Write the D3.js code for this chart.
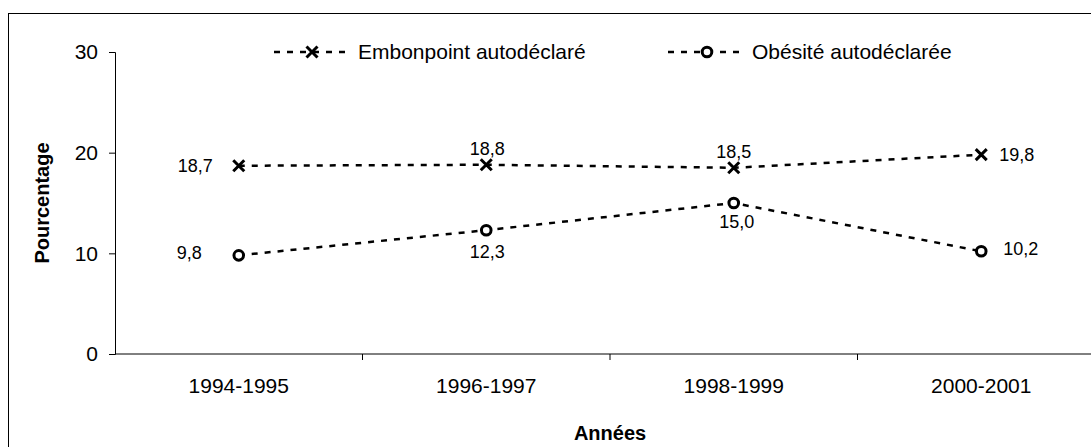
<!DOCTYPE html>
<html>
<head>
<meta charset="utf-8">
<script src="https://cdn.jsdelivr.net/npm/d3@7"></script>
<style>
  body { margin: 0; background: #fff; }
  text { font-family: "Liberation Sans", Arial, sans-serif; fill: #000; }
</style>
</head>
<body>
<div id="chart"></div>
<script>
  const years = ["1994-1995", "1996-1997", "1998-1999", "2000-2001"];
  const embonpoint = [18.7, 18.8, 18.5, 19.8];
  const obesite = [9.8, 12.3, 15.0, 10.2];
  const yTicks = [0, 10, 20, 30];
  const seriesNames = ["Embonpoint autodéclaré", "Obésité autodéclarée"];

  const width = 1091, height = 447;
  const margin = { top: 52, right: -14, bottom: 93, left: 115 };

  const svg = d3.select("#chart").append("svg")
    .attr("width", width)
    .attr("height", height);

  // outer frame
  svg.append("rect")
    .attr("x", 8.5).attr("y", 13.5)
    .attr("width", 1100).attr("height", 460)
    .attr("fill", "none").attr("stroke", "#000").attr("stroke-width", 1);

  const x = d3.scaleBand()
    .domain(years)
    .range([margin.left, width - margin.right]);

  const y = d3.scaleLinear()
    .domain([0, 30])
    .range([height - margin.bottom, margin.top]);

  const fmt = v => d3.format(".1f")(v).replace(".", ",");

  // y axis
  const yAxis = svg.append("g")
    .attr("transform", `translate(${margin.left},0)`)
    .call(d3.axisLeft(y).tickValues(yTicks).tickSize(6).tickPadding(11).tickFormat(d3.format("d")));
  yAxis.attr("font-size", null).attr("font-family", null);
  yAxis.selectAll("text").attr("font-size", 21).attr("dy", "0.33em");

  // x axis with ticks on band boundaries
  const xAxis = svg.append("g")
    .attr("transform", `translate(0,${y(0)})`);
  xAxis.append("line")
    .attr("x1", margin.left).attr("x2", width - margin.right)
    .attr("stroke", "#000");
  xAxis.selectAll(".tk")
    .data(years.slice(1).concat(["end"]))
    .enter().append("line")
      .attr("x1", (d, i) => margin.left + x.bandwidth() * (i + 1))
      .attr("x2", (d, i) => margin.left + x.bandwidth() * (i + 1))
      .attr("y1", 0).attr("y2", 6)
      .attr("stroke", "#000");
  xAxis.selectAll(".lbl")
    .data(years)
    .enter().append("text")
      .attr("x", d => x(d) + x.bandwidth() / 2)
      .attr("y", 39)
      .attr("text-anchor", "middle")
      .attr("font-size", 21)
      .text(d => d);

  svg.selectAll(".domain, .tick line").attr("stroke", "#000");

  // axis titles
  svg.append("text")
    .attr("transform", `translate(49,${(y(0) + y(30)) / 2}) rotate(-90)`)
    .attr("text-anchor", "middle")
    .attr("font-size", 20)
    .attr("font-weight", "bold")
    .text("Pourcentage");

  svg.append("text")
    .attr("x", (margin.left + width - margin.right) / 2)
    .attr("y", 440)
    .attr("text-anchor", "middle")
    .attr("font-size", 20)
    .attr("font-weight", "bold")
    .text("Années");

  const cx = d => x(d) + x.bandwidth() / 2;
  const line = d3.line().x(d => cx(d.year)).y(d => y(d.v));

  function drawX(g, px, py, s) {
    g.append("path")
      .attr("d", `M${px - s},${py - s}L${px + s},${py + s}M${px - s},${py + s}L${px + s},${py - s}`)
      .attr("stroke", "#000").attr("stroke-width", 3).attr("fill", "none");
  }
  function drawO(g, px, py, r) {
    g.append("circle")
      .attr("cx", px).attr("cy", py).attr("r", r)
      .attr("fill", "#fff").attr("stroke", "#000").attr("stroke-width", 3);
  }

  const dataE = years.map((yr, i) => ({ year: yr, v: embonpoint[i] }));
  const dataO = years.map((yr, i) => ({ year: yr, v: obesite[i] }));

  [dataE, dataO].forEach(d => {
    svg.append("path")
      .datum(d)
      .attr("d", line)
      .attr("fill", "none")
      .attr("stroke", "#000")
      .attr("stroke-width", 2.5)
      .attr("stroke-dasharray", "6,7");
  });

  const marks = svg.append("g");
  dataE.forEach(d => drawX(marks, cx(d.year), y(d.v), 5.5));
  dataO.forEach(d => drawO(marks, cx(d.year), y(d.v), 4.8));

  // data labels: [dx, dy, anchor]
  const posE = [[-26, 6, "end"], [1, -10, "middle"], [0, -10, "middle"], [18, 6, "start"]];
  const posO = [[-37, 4, "end"], [1, 28, "middle"], [3, 25, "middle"], [22, 4, "start"]];
  [[dataE, posE], [dataO, posO]].forEach(([d, pos]) => {
    svg.selectAll(null)
      .data(d)
      .enter().append("text")
        .attr("x", (p, i) => cx(p.year) + pos[i][0])
        .attr("y", (p, i) => y(p.v) + pos[i][1])
        .attr("text-anchor", (p, i) => pos[i][2])
        .attr("font-size", 18)
        .text(p => fmt(p.v));
  });

  // legend
  const legend = svg.append("g");
  const legX = [274, 668];
  seriesNames.forEach((name, i) => {
    const lx = legX[i], ly = y(30);
    legend.append("line")
      .attr("x1", lx).attr("x2", lx + 78)
      .attr("y1", ly).attr("y2", ly)
      .attr("stroke", "#000").attr("stroke-width", 2.5)
      .attr("stroke-dasharray", "6,7");
    if (i === 0) drawX(legend, lx + 38, ly, 5.5);
    else drawO(legend, lx + 39, ly, 4.8);
    legend.append("text")
      .attr("x", lx + 84)
      .attr("y", ly + 7)
      .attr("font-size", 21)
      .text(name);
  });
</script>
</body>
</html>
